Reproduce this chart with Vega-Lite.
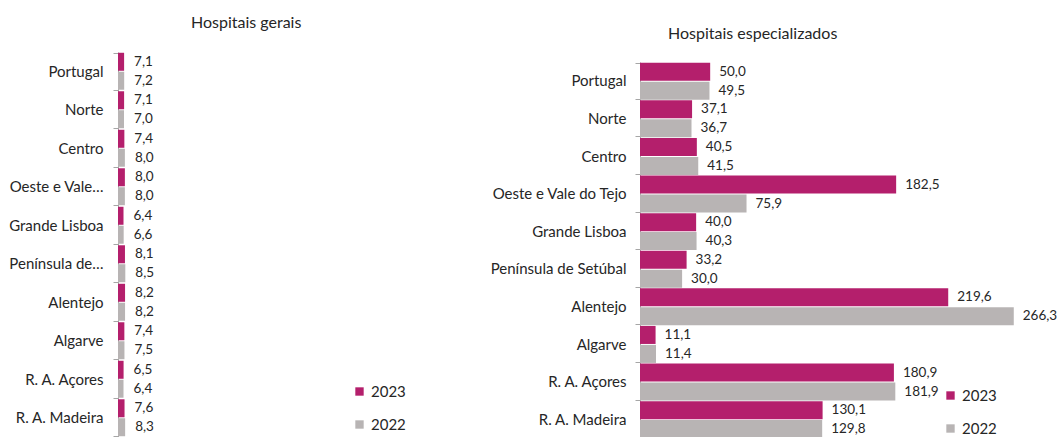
{
  "$schema": "https://vega.github.io/schema/vega-lite/v6.json",
  "padding": {"left": 8, "top": 15, "right": 0, "bottom": 0},
  "background": "white",
  "config": {
    "locale": {"number": {"decimal": ",", "thousands": ".", "grouping": [3], "currency": ["", " €"]}},
    "view": {"stroke": null},
    "font": "Lato",
    "axis": {"labelFont": "Lato", "labelFontSize": 15, "labelColor": "#262626", "domainColor": "#A6A6A6", "tickColor": "#A6A6A6", "tickSize": 5, "title": null},
    "legend": {"labelFont": "Lato", "labelFontSize": 15, "labelColor": "#262626"}
  },
  "datasets": {
    "d": [
      {"region": "Portugal", "year": "2023", "type": "geral", "value": 7.1},
      {"region": "Portugal", "year": "2022", "type": "geral", "value": 7.2},
      {"region": "Norte", "year": "2023", "type": "geral", "value": 7.1},
      {"region": "Norte", "year": "2022", "type": "geral", "value": 7.0},
      {"region": "Centro", "year": "2023", "type": "geral", "value": 7.4},
      {"region": "Centro", "year": "2022", "type": "geral", "value": 8.0},
      {"region": "Oeste e Vale do Tejo", "year": "2023", "type": "geral", "value": 8.0},
      {"region": "Oeste e Vale do Tejo", "year": "2022", "type": "geral", "value": 8.0},
      {"region": "Grande Lisboa", "year": "2023", "type": "geral", "value": 6.4},
      {"region": "Grande Lisboa", "year": "2022", "type": "geral", "value": 6.6},
      {"region": "Península de Setúbal", "year": "2023", "type": "geral", "value": 8.1},
      {"region": "Península de Setúbal", "year": "2022", "type": "geral", "value": 8.5},
      {"region": "Alentejo", "year": "2023", "type": "geral", "value": 8.2},
      {"region": "Alentejo", "year": "2022", "type": "geral", "value": 8.2},
      {"region": "Algarve", "year": "2023", "type": "geral", "value": 7.4},
      {"region": "Algarve", "year": "2022", "type": "geral", "value": 7.5},
      {"region": "R. A. Açores", "year": "2023", "type": "geral", "value": 6.5},
      {"region": "R. A. Açores", "year": "2022", "type": "geral", "value": 6.4},
      {"region": "R. A. Madeira", "year": "2023", "type": "geral", "value": 7.6},
      {"region": "R. A. Madeira", "year": "2022", "type": "geral", "value": 8.3},
      {"region": "Portugal", "year": "2023", "type": "esp", "value": 50.0},
      {"region": "Portugal", "year": "2022", "type": "esp", "value": 49.5},
      {"region": "Norte", "year": "2023", "type": "esp", "value": 37.1},
      {"region": "Norte", "year": "2022", "type": "esp", "value": 36.7},
      {"region": "Centro", "year": "2023", "type": "esp", "value": 40.5},
      {"region": "Centro", "year": "2022", "type": "esp", "value": 41.5},
      {"region": "Oeste e Vale do Tejo", "year": "2023", "type": "esp", "value": 182.5},
      {"region": "Oeste e Vale do Tejo", "year": "2022", "type": "esp", "value": 75.9},
      {"region": "Grande Lisboa", "year": "2023", "type": "esp", "value": 40.0},
      {"region": "Grande Lisboa", "year": "2022", "type": "esp", "value": 40.3},
      {"region": "Península de Setúbal", "year": "2023", "type": "esp", "value": 33.2},
      {"region": "Península de Setúbal", "year": "2022", "type": "esp", "value": 30.0},
      {"region": "Alentejo", "year": "2023", "type": "esp", "value": 219.6},
      {"region": "Alentejo", "year": "2022", "type": "esp", "value": 266.3},
      {"region": "Algarve", "year": "2023", "type": "esp", "value": 11.1},
      {"region": "Algarve", "year": "2022", "type": "esp", "value": 11.4},
      {"region": "R. A. Açores", "year": "2023", "type": "esp", "value": 180.9},
      {"region": "R. A. Açores", "year": "2022", "type": "esp", "value": 181.9},
      {"region": "R. A. Madeira", "year": "2023", "type": "esp", "value": 130.1},
      {"region": "R. A. Madeira", "year": "2022", "type": "esp", "value": 129.8}
    ]
  },
  "resolve": {"scale": {"color": "independent", "x": "independent", "y": "independent"}, "legend": {"color": "independent"}},
  "spacing": 84,
  "hconcat": [
    {
      "width": 258,
      "height": 385,
      "data": {"name": "d"},
      "transform": [{"filter": "datum.type == 'geral'"}],
      "title": {"text": "Hospitais gerais", "anchor": "start", "frame": "group", "dx": 73, "offset": 14, "fontSize": 16, "fontWeight": "normal", "color": "#262626", "font": "Lato"},
      "encoding": {
        "y": {
          "field": "region", "type": "nominal",
          "sort": ["Portugal", "Norte", "Centro", "Oeste e Vale do Tejo", "Grande Lisboa", "Península de Setúbal", "Alentejo", "Algarve", "R. A. Açores", "R. A. Madeira"],
          "scale": {"paddingInner": 0.04, "paddingOuter": 0.02},
          "axis": {"tickBand": "extent", "labelPadding": 10, "labelLimit": 95}
        },
        "yOffset": {"field": "year", "type": "nominal", "sort": ["2023", "2022"], "scale": {"domain": ["2023", "2022"], "paddingInner": 0.05}},
        "x": {"field": "value", "type": "quantitative", "scale": {"domain": [0, 300]}, "axis": null}
      },
      "layer": [
        {
          "mark": {"type": "bar"},
          "encoding": {
            "color": {
              "field": "year", "type": "nominal",
              "scale": {"domain": ["2023", "2022"], "range": ["#B41F6C", "#B8B4B4"]},
              "legend": {"title": null, "orient": "none", "legendX": 234, "legendY": 332, "symbolType": "square", "symbolSize": 70, "symbolStrokeWidth": 0, "rowPadding": 17}
            }
          }
        },
        {
          "mark": {"type": "text", "align": "left", "dx": 10, "fontSize": 13.5, "color": "#262626", "font": "Lato"},
          "encoding": {"text": {"field": "value", "type": "quantitative", "format": ".1f"}}
        }
      ]
    },
    {
      "width": 393,
      "height": 386,
      "data": {"name": "d"},
      "transform": [{"filter": "datum.type == 'esp'"}],
      "title": {"text": "Hospitais especializados", "anchor": "start", "frame": "group", "dx": 28, "offset": 3, "fontSize": 16, "fontWeight": "normal", "color": "#262626", "font": "Lato"},
      "encoding": {
        "y": {
          "field": "region", "type": "nominal",
          "sort": ["Portugal", "Norte", "Centro", "Oeste e Vale do Tejo", "Grande Lisboa", "Península de Setúbal", "Alentejo", "Algarve", "R. A. Açores", "R. A. Madeira"],
          "scale": {"paddingInner": 0.04, "paddingOuter": 0.02, "range": [10, 386]},
          "axis": {"tickBand": "extent", "labelPadding": 9, "labelLimit": 200}
        },
        "yOffset": {"field": "year", "type": "nominal", "sort": ["2023", "2022"], "scale": {"domain": ["2023", "2022"], "paddingInner": 0.05}},
        "x": {"field": "value", "type": "quantitative", "scale": {"domain": [0, 280]}, "axis": null}
      },
      "layer": [
        {
          "mark": {"type": "bar"},
          "encoding": {
            "color": {
              "field": "year", "type": "nominal",
              "scale": {"domain": ["2023", "2022"], "range": ["#B41F6C", "#B8B4B4"]},
              "legend": {"title": null, "orient": "none", "legendX": 303, "legendY": 336, "symbolType": "square", "symbolSize": 70, "symbolStrokeWidth": 0, "rowPadding": 17}
            }
          }
        },
        {
          "mark": {"type": "text", "align": "left", "dx": 9, "fontSize": 13.5, "color": "#262626", "font": "Lato"},
          "encoding": {"text": {"field": "value", "type": "quantitative", "format": ".1f"}}
        }
      ]
    }
  ]
}
